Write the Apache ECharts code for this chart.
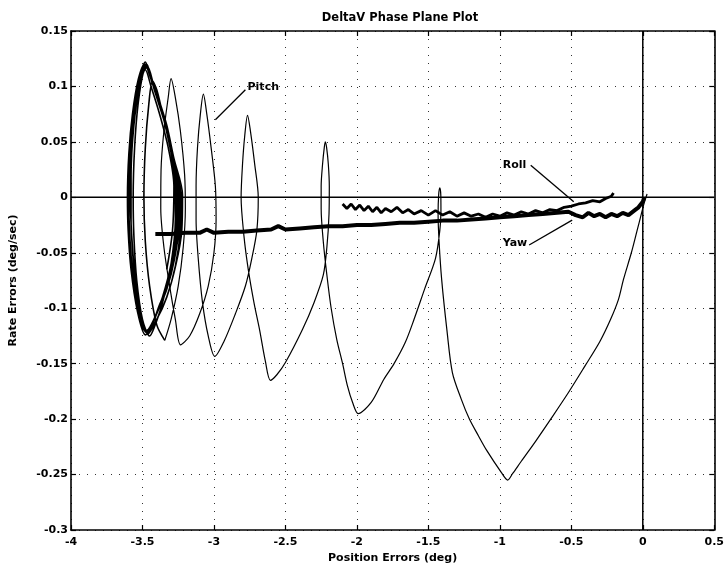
<!DOCTYPE html>
<html>
<head>
<meta charset="utf-8">
<title>DeltaV Phase Plane Plot</title>
<script src="https://cdn.jsdelivr.net/npm/echarts/dist/echarts.min.js"></script>
<style>
  html, body { margin: 0; padding: 0; background: #fff; }
  #main { width: 727px; height: 569px; }
</style>
</head>
<body>
<div id="main"></div>
<script>
// tick positions
var xTicks = [-4, -3.5, -3, -2.5, -2, -1.5, -1, -0.5, 0, 0.5];
var yTicks = [-0.3, -0.25, -0.2, -0.15, -0.1, -0.05, 0, 0.05, 0.1, 0.15];

// pitch: the descending path from the origin to the left (position, rate)
var pitchPath = [
  [0.03, 0.003], [0.01, -0.005], [-0.01, -0.015], [-0.04, -0.03], [-0.08, -0.05], [-0.135, -0.074],
  [-0.17, -0.092], [-0.225, -0.11], [-0.3, -0.13], [-0.404, -0.152], [-0.52, -0.176], [-0.644, -0.2],
  [-0.75, -0.22], [-0.85, -0.238], [-0.91, -0.249], [-0.945, -0.255], [-0.99, -0.248],
  [-1.093, -0.228], [-1.15, -0.215], [-1.213, -0.2], [-1.27, -0.182], [-1.332, -0.158], [-1.37, -0.12],
  [-1.407, -0.074], [-1.425, -0.04], [-1.432, -0.015], [-1.428, 0.002], [-1.42, 0.0085], [-1.413, 0.002],
  [-1.412, -0.012], [-1.42, -0.03], [-1.45, -0.055],
  [-1.527, -0.083], [-1.6, -0.11], [-1.662, -0.131], [-1.74, -0.15], [-1.811, -0.164], [-1.9, -0.185], [-1.991, -0.195],
  [-2.03, -0.185], [-2.066, -0.17], [-2.1, -0.15], [-2.141, -0.128], [-2.18, -0.1], [-2.21, -0.07], [-2.235, -0.04],
  [-2.25, -0.01], [-2.25, 0.01], [-2.24, 0.03], [-2.228, 0.045], [-2.221, 0.05], [-2.212, 0.045], [-2.2, 0.03],
  [-2.193, 0.01], [-2.195, -0.015], [-2.21, -0.045], [-2.235, -0.07],
  [-2.3, -0.095], [-2.38, -0.119], [-2.5, -0.149], [-2.56, -0.16], [-2.605, -0.165],
  [-2.64, -0.148], [-2.68, -0.12], [-2.72, -0.095], [-2.76, -0.065], [-2.79, -0.035], [-2.81, 0.0], [-2.8, 0.03],
  [-2.785, 0.055], [-2.765, 0.074], [-2.745, 0.06], [-2.715, 0.03], [-2.69, 0.0], [-2.7, -0.03], [-2.735, -0.055],
  [-2.78, -0.08], [-2.85, -0.105], [-2.93, -0.13], [-2.994, -0.1435],
  [-3.04, -0.125], [-3.08, -0.095], [-3.11, -0.055], [-3.125, -0.02], [-3.125, 0.01], [-3.115, 0.045], [-3.095, 0.075],
  [-3.074, 0.093], [-3.05, 0.075], [-3.02, 0.045], [-2.99, 0.01], [-2.985, -0.02], [-3.0, -0.05], [-3.04, -0.08],
  [-3.1, -0.105], [-3.17, -0.125], [-3.234, -0.133],
  [-3.27, -0.11], [-3.31, -0.08], [-3.35, -0.045], [-3.372, -0.01], [-3.37, 0.025], [-3.35, 0.06], [-3.32, 0.09],
  [-3.3, 0.107], [-3.27, 0.09], [-3.235, 0.06], [-3.205, 0.02], [-3.2, -0.01], [-3.215, -0.045], [-3.25, -0.08],
  [-3.3, -0.11], [-3.344, -0.129]
];

// pitch: limit cycle loops on the left
var pitchLoops = [
  [-3.4, -0.115], [-3.45, -0.08], [-3.48, -0.04], [-3.49, 0], [-3.48, 0.045], [-3.455, 0.085], [-3.43, 0.105],
  [-3.4, 0.097], [-3.35, 0.07], [-3.3, 0.04], [-3.27, 0.01], [-3.27, -0.02], [-3.3, -0.06], [-3.36, -0.095],
  [-3.42, -0.118], [-3.45, -0.125],
  [-3.5, -0.11], [-3.54, -0.075], [-3.56, -0.035], [-3.565, 0], [-3.555, 0.045], [-3.53, 0.085], [-3.49, 0.115],
  [-3.465, 0.118], [-3.42, 0.1], [-3.36, 0.075], [-3.3, 0.045], [-3.26, 0.012], [-3.255, -0.015], [-3.28, -0.05],
  [-3.33, -0.08], [-3.39, -0.1], [-3.44, -0.118], [-3.47, -0.122],
  [-3.52, -0.108], [-3.565, -0.072], [-3.59, -0.032], [-3.595, 0], [-3.585, 0.04], [-3.56, 0.08], [-3.515, 0.112],
  [-3.48, 0.122], [-3.455, 0.113], [-3.4, 0.09], [-3.34, 0.065], [-3.285, 0.035], [-3.24, 0.005], [-3.24, -0.02],
  [-3.275, -0.055], [-3.33, -0.083], [-3.4, -0.105], [-3.46, -0.122], [-3.48, -0.124],
  [-3.535, -0.103], [-3.58, -0.065], [-3.6, -0.03], [-3.605, 0], [-3.595, 0.04], [-3.57, 0.075], [-3.53, 0.106],
  [-3.485, 0.12], [-3.46, 0.115], [-3.41, 0.094], [-3.35, 0.07], [-3.29, 0.04], [-3.25, 0.01], [-3.245, -0.02],
  [-3.28, -0.055], [-3.34, -0.085], [-3.4, -0.105], [-3.46, -0.12], [-3.475, -0.121],
  [-3.53, -0.105], [-3.575, -0.068], [-3.597, -0.03], [-3.6, 0], [-3.59, 0.04], [-3.565, 0.078], [-3.52, 0.11],
  [-3.48, 0.12], [-3.455, 0.112], [-3.4, 0.092], [-3.345, 0.068], [-3.29, 0.038], [-3.255, 0.008], [-3.25, -0.02],
  [-3.285, -0.055], [-3.345, -0.085], [-3.41, -0.108], [-3.47, -0.122],
  [-3.525, -0.1], [-3.57, -0.065], [-3.592, -0.03], [-3.595, 0], [-3.585, 0.04], [-3.56, 0.08], [-3.515, 0.11],
  [-3.475, 0.119], [-3.45, 0.11], [-3.39, 0.088], [-3.33, 0.062], [-3.28, 0.032], [-3.26, 0.0], [-3.265, -0.025],
  [-3.3, -0.06], [-3.36, -0.09], [-3.42, -0.11], [-3.47, -0.12],
  [-3.515, -0.104], [-3.555, -0.07], [-3.578, -0.03], [-3.582, 0], [-3.575, 0.04], [-3.55, 0.08], [-3.51, 0.108],
  [-3.47, 0.117], [-3.44, 0.108], [-3.385, 0.086], [-3.325, 0.06], [-3.275, 0.03], [-3.23, 0.0], [-3.235, -0.03],
  [-3.27, -0.062], [-3.33, -0.09], [-3.4, -0.11], [-3.465, -0.121],
  [-3.51, -0.108], [-3.55, -0.075], [-3.575, -0.035], [-3.585, 0], [-3.578, 0.045], [-3.55, 0.085], [-3.505, 0.113],
  [-3.47, 0.12], [-3.445, 0.11], [-3.39, 0.09], [-3.33, 0.065], [-3.28, 0.035], [-3.22, 0.002], [-3.225, -0.03],
  [-3.265, -0.06], [-3.325, -0.088], [-3.4, -0.11], [-3.46, -0.123],
  [-3.52, -0.1], [-3.56, -0.06], [-3.58, -0.02], [-3.58, 0.02], [-3.56, 0.065], [-3.52, 0.1], [-3.48, 0.115],
  [-3.44, 0.1], [-3.38, 0.075], [-3.32, 0.045], [-3.28, 0.01], [-3.29, -0.03], [-3.33, -0.065]
];

// roll (upper noisy band)
var roll = [
  [-2.10, -0.006], [-2.07, -0.010], [-2.04, -0.006], [-2.01, -0.011], [-1.98, -0.007], [-1.95, -0.012],
  [-1.92, -0.008], [-1.89, -0.013], [-1.86, -0.009], [-1.83, -0.014], [-1.80, -0.010], [-1.76, -0.013],
  [-1.72, -0.009], [-1.68, -0.014], [-1.64, -0.011], [-1.60, -0.015], [-1.55, -0.012], [-1.50, -0.016],
  [-1.45, -0.012], [-1.40, -0.016], [-1.35, -0.013], [-1.30, -0.017], [-1.25, -0.014], [-1.20, -0.017],
  [-1.15, -0.015], [-1.10, -0.018], [-1.05, -0.015], [-1.00, -0.017], [-0.95, -0.014], [-0.90, -0.016],
  [-0.85, -0.013], [-0.80, -0.015], [-0.75, -0.012], [-0.70, -0.014], [-0.65, -0.011], [-0.60, -0.012],
  [-0.55, -0.009], [-0.50, -0.008], [-0.45, -0.006], [-0.40, -0.005], [-0.35, -0.003], [-0.30, -0.004],
  [-0.26, -0.001], [-0.22, 0.001], [-0.205, 0.004]
];

// yaw (lower thick band)
var yaw = [
  [-3.41, -0.033], [-3.3, -0.033], [-3.2, -0.032], [-3.1, -0.032], [-3.05, -0.029], [-3.0, -0.032],
  [-2.9, -0.031], [-2.8, -0.031], [-2.7, -0.030], [-2.6, -0.029], [-2.55, -0.026], [-2.5, -0.029],
  [-2.4, -0.028], [-2.3, -0.027], [-2.2, -0.026], [-2.1, -0.026], [-2.0, -0.025], [-1.9, -0.025],
  [-1.8, -0.024], [-1.7, -0.023], [-1.6, -0.023], [-1.5, -0.022], [-1.4, -0.021], [-1.3, -0.021],
  [-1.2, -0.020], [-1.1, -0.019], [-1.0, -0.018], [-0.9, -0.017], [-0.8, -0.016], [-0.7, -0.015],
  [-0.6, -0.014], [-0.52, -0.013], [-0.47, -0.016], [-0.42, -0.018], [-0.38, -0.014], [-0.34, -0.017],
  [-0.3, -0.015], [-0.26, -0.018], [-0.22, -0.015], [-0.18, -0.017], [-0.14, -0.014], [-0.1, -0.016],
  [-0.06, -0.012], [-0.03, -0.009], [0.0, -0.004], [0.01, 0.0]
];

// zero reference lines
var zeroH = [[-4, 0], [0.5, 0]];
var zeroV = [[0, -0.3], [0, 0.15]];

// labels and their leader lines
var noteNames = ['Pitch', 'Roll', 'Yaw'];
var noteAt = [[-2.765, 0.0995], [-0.98, 0.029], [-0.98, -0.0415]];
var noteLines = [
  [[-2.78, 0.097], [-2.99, 0.07]],
  [[-0.784, 0.029], [-0.483, -0.004]],
  [[-0.795, -0.043], [-0.494, -0.0205]]
];

var FONT = 'DejaVu Sans';

var myChart = echarts.init(document.getElementById('main'), null, { renderer: 'canvas' });

function axisBase(ticks, pos, showLabel) {
  return {
    type: 'value',
    position: pos,
    min: ticks[0],
    max: ticks[ticks.length - 1],
    interval: ticks[1] - ticks[0],
    axisLine: { show: true, onZero: false, lineStyle: { color: '#000', width: 1.6 } },
    axisTick: { show: true, inside: true, length: 5, lineStyle: { color: '#000', width: 1.2 } },
    axisLabel: {
      show: showLabel, color: '#000', fontFamily: FONT, fontWeight: 'bold', fontSize: 11,
      formatter: function (v) { return String(Math.round(v * 1000) / 1000); }
    },
    splitLine: { show: false }
  };
}

var xBottom = axisBase(xTicks, 'bottom', true);
xBottom.axisLabel.margin = 7;
xBottom.name = 'Position Errors (deg)';
xBottom.nameLocation = 'middle';
xBottom.nameGap = 21;
xBottom.nameTextStyle = { color: '#000', fontFamily: FONT, fontWeight: 'bold', fontSize: 11 };
xBottom.splitLine = { show: true, lineStyle: { color: '#333', width: 1, type: [1, 7] } };

var yLeft = axisBase(yTicks, 'left', true);
yLeft.axisLabel.margin = 3;
yLeft.name = 'Rate Errors (deg/sec)';
yLeft.nameLocation = 'middle';
yLeft.nameGap = 52;
yLeft.nameTextStyle = { color: '#000', fontFamily: FONT, fontWeight: 'bold', fontSize: 11 };
yLeft.splitLine = { show: true, lineStyle: { color: '#333', width: 1, type: [1, 7] } };

var series = [];

// pitch
series.push({
  name: 'Pitch', type: 'line', data: pitchPath,
  showSymbol: false, smooth: 0.3, silent: true,
  lineStyle: { color: '#000', width: 1.2 }
});
series.push({
  name: 'Pitch loops', type: 'line', data: [pitchPath[pitchPath.length - 1]].concat(pitchLoops),
  showSymbol: false, smooth: 0.3, silent: true,
  lineStyle: { color: '#000', width: 1.6 }
});
// yaw
series.push({
  name: 'Yaw', type: 'line', data: yaw, showSymbol: false, silent: true,
  lineStyle: { color: '#000', width: 4 }
});
// roll
series.push({
  name: 'Roll', type: 'line', data: roll, showSymbol: false, silent: true,
  lineStyle: { color: '#000', width: 2.8 }
});
// zero lines
series.push({ type: 'line', data: zeroH, showSymbol: false, silent: true, lineStyle: { color: '#000', width: 1.5 } });
series.push({ type: 'line', data: zeroV, showSymbol: false, silent: true, lineStyle: { color: '#000', width: 1.5 } });

// leader lines
noteLines.forEach(function (l) {
  series.push({ type: 'line', data: l, showSymbol: false, silent: true, lineStyle: { color: '#000', width: 1.3 } });
});

var option = {
  animation: false,
  backgroundColor: '#fff',
  title: {
    text: 'DeltaV Phase Plane Plot',
    left: 395, top: 7, textAlign: 'center',
    textStyle: { color: '#000', fontFamily: FONT, fontWeight: 'bold', fontSize: 11.5 }
  },
  grid: { left: 71, right: 7, top: 31, bottom: 39, containLabel: false },
  xAxis: [xBottom, axisBase(xTicks, 'top', false)],
  yAxis: [yLeft, axisBase(yTicks, 'right', false)],
  series: series
};

myChart.setOption(option);

// annotation texts, placed through the axes
var texts = [];
for (var i = 0; i < noteNames.length; i++) {
  var p = myChart.convertToPixel({ gridIndex: 0 }, noteAt[i]);
  texts.push({
    type: 'text', x: p[0], y: p[1], silent: true,
    style: {
      text: noteNames[i], fill: '#000', font: 'bold 11px "DejaVu Sans"',
      textAlign: 'left', textVerticalAlign: 'middle'
    }
  });
}
myChart.setOption({ graphic: texts });
</script>
</body>
</html>
